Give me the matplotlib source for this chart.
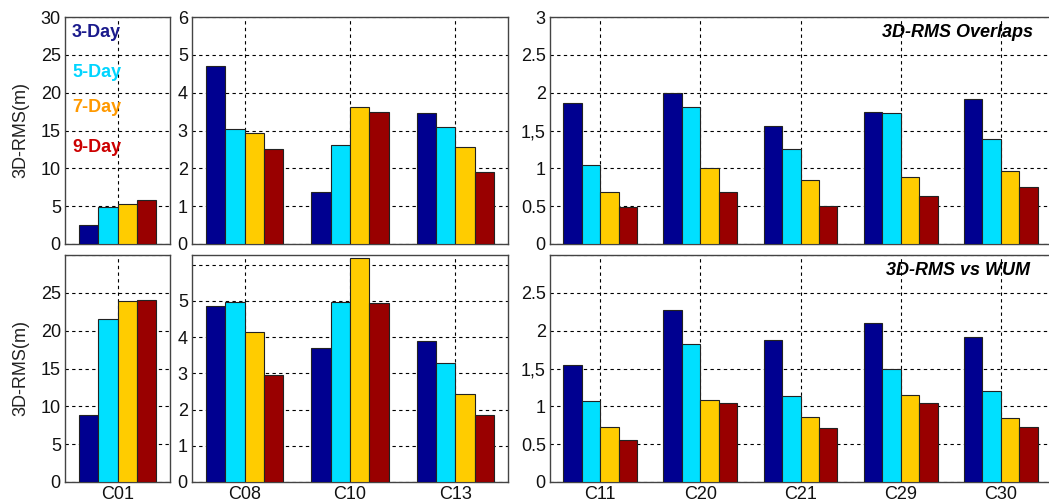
import numpy as np
import matplotlib.pyplot as plt

plt.rcParams['font.family'] = ['Liberation Sans', 'DejaVu Sans']

series = ['3-Day', '5-Day', '7-Day', '9-Day']
bar_colors = ['#000090', '#00E0FF', '#FFCC00', '#990000']
text_colors = ['#1A1A8C', '#00D5FF', '#FF9900', '#CC0000']

geo_sats = ['C01']
igso_sats = ['C08', 'C10', 'C13']
meo_sats = ['C11', 'C20', 'C21', 'C29', 'C30']

# overlaps (top row), one row per satellite: 3/5/7/9-day
ovl_geo = [[2.5, 4.9, 5.3, 5.8]]
ovl_igso = [[4.70, 3.05, 2.93, 2.52],
            [1.37, 2.62, 3.61, 3.48],
            [3.45, 3.08, 2.56, 1.90]]
ovl_meo = [[1.86, 1.04, 0.69, 0.49],
           [2.00, 1.81, 1.00, 0.69],
           [1.56, 1.26, 0.85, 0.50],
           [1.74, 1.73, 0.89, 0.64],
           [1.92, 1.39, 0.97, 0.75]]

# vs WUM (bottom row)
wum_geo = [[8.85, 21.6, 23.9, 24.1]]
wum_igso = [[4.87, 4.96, 4.15, 2.95],
            [3.70, 4.96, 6.20, 4.94],
            [3.89, 3.28, 2.44, 1.85]]
wum_meo = [[1.54, 1.07, 0.73, 0.56],
           [2.27, 1.82, 1.09, 1.04],
           [1.88, 1.13, 0.86, 0.71],
           [2.10, 1.49, 1.15, 1.04],
           [1.91, 1.20, 0.84, 0.73]]

fig = plt.figure(figsize=(10.49, 5.03), dpi=100)

W = 1049.0
H = 503.0
cols = [(65, 105), (192, 316), (550, 501)]
rows = [(17, 227), (255, 227)]
FS = 13

def panel(row, col, sats, vals, ymax, ticks, ticklabels, show_x):
    x0, w = cols[col]
    y0, h = rows[row]
    ax = fig.add_axes([x0 / W, 1 - (y0 + h) / H, w / W, h / H])
    vals = np.array(vals)
    x = np.arange(1, len(sats) + 1)
    bw = 0.184
    for i in range(4):
        ax.bar(x + (i - 1.5) * bw, vals[:, i], width=bw, color=bar_colors[i],
               edgecolor='#222222', linewidth=0.8, zorder=3)
    ax.set_xlim(0.5, len(sats) + 0.5)
    ax.set_ylim(0, ymax)
    ax.set_xticks(x)
    if show_x:
        ax.set_xticklabels(sats, fontsize=FS)
    else:
        ax.set_xticklabels([])
    ax.set_yticks(ticks)
    ax.set_yticklabels(ticklabels, fontsize=FS)
    ax.tick_params(length=0, pad=3, colors='#111111')
    ax.grid(True, color='black', linestyle=(0, (3, 3)), linewidth=0.8)
    ax.set_axisbelow(True)
    for s in ax.spines.values():
        s.set_color('#444444')
        s.set_linewidth(1.0)
    return ax

tick30 = [0, 5, 10, 15, 20, 25, 30]
tick6 = [0, 1, 2, 3, 4, 5, 6]
tick3 = [0, 0.5, 1, 1.5, 2, 2.5, 3]

ax1 = panel(0, 0, geo_sats, ovl_geo, 30, tick30, [str(t) for t in tick30], False)
ax2 = panel(0, 1, igso_sats, ovl_igso, 6, tick6, [str(t) for t in tick6], False)
ax3 = panel(0, 2, meo_sats, ovl_meo, 3, tick3,
            ['0', '0.5', '1', '1,5', '2', '2.5', '3'], False)
ax4 = panel(1, 0, geo_sats, wum_geo, 30, tick30,
            ['0', '5', '10', '15', '20', '25', ''], True)
ax5 = panel(1, 1, igso_sats, wum_igso, 6.27, tick6,
            ['0', '1', '2', '3', '4', '5', ''], True)
ax6 = panel(1, 2, meo_sats, wum_meo, 3, tick3,
            ['0', '0.5', '1', '1,5', '2', '2.5', ''], True)

for ax in (ax1, ax4):
    ax.set_ylabel('3D-RMS(m)', fontsize=FS, color='#222222')
    ax.yaxis.set_label_coords(-0.335, 0.5)

# legend as coloured words
for i, (name, c) in enumerate(zip(series, text_colors)):
    ax1.text(0.567, [27.9, 22.7, 18.0, 12.8][i], name, color=c, fontsize=FS,
             fontweight='bold', ha='left', va='center', zorder=5)

ax3.text(0.965, 0.93, '3D-RMS Overlaps', transform=ax3.transAxes, ha='right',
         va='center', fontsize=FS, fontweight='bold', style='italic')
ax6.text(0.958, 0.93, '3D-RMS vs WUM', transform=ax6.transAxes, ha='right',
         va='center', fontsize=FS, fontweight='bold', style='italic')

fig.savefig('out.png', dpi=100)
